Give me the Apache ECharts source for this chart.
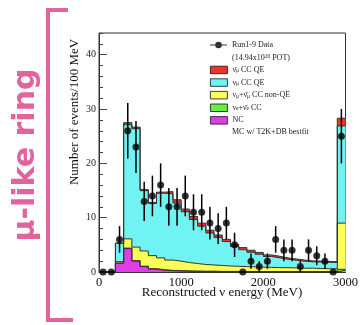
<!DOCTYPE html>
<html>
<head>
<meta charset="utf-8">
<script src="https://cdn.jsdelivr.net/npm/echarts@6/dist/echarts.min.js"></script>
<style>
html, body { margin: 0; padding: 0; background: #fff; }
#chart { width: 361px; height: 325px; }
</style>
</head>
<body>
<div id="chart"></div>
<script>
// Lower edges of the 100 MeV reconstructed-energy bins (last bin holds overflow)
const binLow = [0, 100, 200, 300, 400, 500, 600, 700, 800, 900,
  1000, 1100, 1200, 1300, 1400, 1500, 1600, 1700, 1800, 1900,
  2000, 2100, 2200, 2300, 2400, 2500, 2600, 2700, 2800, 2900];
const binWidth = 100;
const xMax = 3000;

// Observed events per bin
const dataCounts = [0, 0, 6, 26, 23, 13, 14, 16, 12, 12,
  14, 11, 11, 9, 8, 9, 5, 0, 2, 1,
  2, 6, 4, 4, 1, 4, 3, 2, 0, 25];

// Predicted events per bin, split by interaction channel
const ncEvents = [0, 0, 1.6, 4.3, 2.0, 1.0, 0.55, 0.35, 0.25, 0.2,
  0.15, 0.12, 0.1, 0.1, 0.08, 0.08, 0.07, 0.06, 0.06, 0.05,
  0.05, 0.05, 0.05, 0.04, 0.04, 0.04, 0.04, 0.03, 0.03, 0.3];
const nueCC = [0, 0, 0.05, 0.1, 0.08, 0.07, 0.06, 0.05, 0.05, 0.05,
  0.04, 0.04, 0.04, 0.04, 0.03, 0.03, 0.03, 0.03, 0.03, 0.03,
  0.03, 0.03, 0.03, 0.03, 0.02, 0.02, 0.02, 0.02, 0.02, 0.2];
const numuNonQE = [0, 0, 0.25, 1.7, 2.5, 2.8, 2.4, 2.2, 1.9, 1.75,
  1.55, 1.4, 1.25, 1.15, 1.1, 1.0, 0.95, 0.9, 0.86, 0.82,
  0.77, 0.72, 0.72, 0.68, 0.64, 0.64, 0.59, 0.55, 0.55, 8.5];
const numuQE = [0, 0, 3.4, 21.0, 21.8, 11.1, 9.6, 11.9, 12.2, 10.7,
  9.35, 8.1, 7.05, 5.9, 5.15, 4.5, 3.65, 3.12, 2.69, 2.36,
  2.0, 1.8, 1.55, 1.43, 1.3, 1.18, 1.18, 1.19, 1.15, 17.9];
const numubarQE = [0, 0, 0, 0.4, 0.3, 0.2, 0.2, 0.2, 0.4, 0.6,
  0.5, 0.55, 0.55, 0.5, 0.45, 0.4, 0.4, 0.38, 0.36, 0.34,
  0.3, 0.3, 0.25, 0.22, 0.2, 0.17, 0.17, 0.16, 0.15, 1.4];

// Tick values
const xTicks = [0, 1000, 2000, 3000];
const yTicks = [0, 10, 20, 30, 40];

const SERIF = '"Liberation Serif", "DejaVu Serif", serif';
const PINK = '#E2649F';

// Channels stacked from the bottom up
const layers = [
  { name: 'NC', values: ncEvents, color: '#E03DE8', label: '{t|NC}' },
  { name: 'νe+ν̄e CC', values: nueCC, color: '#66EE44', label: '{t|ν}{s|e}{t|+ν̄}{s|e}{t| CC}' },
  { name: 'νμ+ν̄μ CC non-QE', values: numuNonQE, color: '#FFFF55', label: '{t|ν}{s|μ}{t|+ν̄}{s|μ}{t| CC non-QE}' },
  { name: 'νμ CC QE', values: numuQE, color: '#72F3F3', label: '{t|ν}{s|μ}{t| CC QE}' },
  { name: 'ν̄μ CC QE', values: numubarQE, color: '#F0322C', label: '{t|ν̄}{s|μ}{t| CC QE}' }
];

// Running sums give the top edge of each stacked layer
const running = binLow.map(() => 0);
const cumulative = layers.map(layer => {
  layer.values.forEach((v, i) => { running[i] += v; });
  return running.slice();
});

// Step outline of a layer: one point at each bin's lower edge plus the closing edge
function stepPoints(tops) {
  const pts = binLow.map((x, i) => [x, tops[i]]);
  pts.push([xMax, tops[tops.length - 1]]);
  return pts;
}

// Draw the top layer first so lower layers sit on top of it
const histSeries = layers.map((layer, k) => ({
  name: layer.name,
  type: 'line',
  step: 'end',
  data: stepPoints(cumulative[k]),
  showSymbol: false,
  symbol: 'none',
  color: layer.color,
  lineStyle: { color: '#333', width: 1 },
  areaStyle: { color: layer.color, opacity: 1 },
  z: 2,
  silent: true,
  animation: false
})).reverse();

const binCenters = binLow.map(x => x + binWidth / 2);
const pointData = binCenters.map((x, i) => [x, dataCounts[i]]);
const errData = binCenters.map((x, i) => {
  const e = Math.sqrt(dataCounts[i]);
  return [x, dataCounts[i] - e, dataCounts[i] + e];
});

const legendRich = {
  t: { fontFamily: SERIF, fontSize: 8, color: '#222', lineHeight: 8 },
  s: { fontFamily: SERIF, fontSize: 5.5, color: '#222', lineHeight: 8, verticalAlign: 'bottom' }
};
const labelByName = {};
layers.forEach(l => { labelByName[l.name] = l.label; });

const chart = echarts.init(document.getElementById('chart'), null, { renderer: 'canvas' });

chart.setOption({
  animation: false,
  backgroundColor: '#fff',
  grid: { left: 99, right: 14, top: 33, bottom: 53, show: true, borderColor: '#333', borderWidth: 1, backgroundColor: 'transparent' },
  xAxis: [{
    type: 'value', min: 0, max: xMax, interval: 1000,
    axisLine: { show: true, lineStyle: { color: '#333', width: 1 } },
    axisTick: { show: true, inside: true, length: 8, lineStyle: { color: '#444' } },
    axisLabel: { fontFamily: SERIF, fontSize: 12.5, color: '#111', margin: 4,
      formatter: v => (xTicks.indexOf(v) >= 0 ? String(v) : '') },
    splitLine: { show: false }
  }, {
    type: 'value', min: 0, max: xMax, interval: 200, position: 'bottom',
    axisLine: { show: false },
    axisTick: { show: true, inside: true, length: 4, lineStyle: { color: '#444' } },
    axisLabel: { show: false }, splitLine: { show: false }
  }],
  yAxis: [{
    type: 'value', min: 0, max: 44, interval: 10,
    axisLine: { show: true, lineStyle: { color: '#333', width: 1 } },
    axisTick: { show: true, inside: true, length: 8, lineStyle: { color: '#444' } },
    axisLabel: { fontFamily: SERIF, fontSize: 10, color: '#222', margin: 3, showMaxLabel: false,
      formatter: v => (yTicks.indexOf(v) >= 0 ? String(v) : '') },
    splitLine: { show: false }
  }, {
    type: 'value', min: 0, max: 44, interval: 2, position: 'left',
    axisLine: { show: false },
    axisTick: { show: true, inside: true, length: 4, lineStyle: { color: '#444' } },
    axisLabel: { show: false }, splitLine: { show: false }
  }],
  legend: [{
    orient: 'vertical', left: 210, top: 41, padding: 0, itemWidth: 17, itemHeight: 8,
    selectedMode: false,
    data: [{ name: 'Run1-9 Data',
      icon: 'path://M0,4.4H18V5.6H0Z M5.5,5A3.5,3.5 0 1,1 12.5,5A3.5,3.5 0 1,1 5.5,5Z',
      itemStyle: { color: '#000' } }],
    textStyle: { fontFamily: SERIF, fontSize: 8, color: '#222' }
  }, {
    orient: 'vertical', left: 210, top: 65.8, padding: 0, itemWidth: 17, itemHeight: 7.5, itemGap: 4.3,
    selectedMode: false,
    itemStyle: { borderColor: '#111', borderWidth: 0.8 },
    data: layers.slice().reverse().map(l => ({ name: l.name, icon: 'rect', itemStyle: { color: l.color } })),
    formatter: name => labelByName[name],
    textStyle: { fontFamily: SERIF, fontSize: 8, color: '#222', lineHeight: 8, rich: legendRich }
  }],
  graphic: [
    { type: 'text', left: 232, top: 53.5, silent: true,
      style: { text: '{t|(14.94x10}{p|20}{t| POT)}', rich: {
        t: { fontFamily: SERIF, fontSize: 8, fill: '#222', lineHeight: 9 },
        p: { fontFamily: SERIF, fontSize: 5.5, fill: '#222', lineHeight: 9, verticalAlign: 'top', padding: [0, 0, 3, 0] } } } },
    { type: 'text', left: 232, top: 127.5, silent: true,
      style: { text: 'MC w/ T2K+DB bestfit', font: '8px ' + SERIF, fill: '#222' } },
    { type: 'text', x: 75, y: 112, rotation: Math.PI / 2, silent: true,
      style: { text: 'Number of events/100 MeV', font: '13px ' + SERIF, fill: '#111', align: 'center', verticalAlign: 'middle' } },
    { type: 'text', x: 222, y: 293, silent: true,
      style: { text: 'Reconstructed ν energy (MeV)', font: '13px ' + SERIF, fill: '#111', align: 'center', verticalAlign: 'middle' } },
    { type: 'text', x: 26, y: 155, rotation: Math.PI / 2, silent: true,
      style: { text: 'μ-like ring', font: 'bold 30px "DejaVu Sans", sans-serif', fill: PINK, align: 'center', verticalAlign: 'middle' } },
    { type: 'polyline', silent: true,
      shape: { points: [[68, 10], [48, 10], [48, 320], [73, 320]] },
      style: { stroke: PINK, lineWidth: 4, fill: null, lineJoin: 'miter' } }
  ],
  series: histSeries.concat([
    {
      name: 'error bars',
      type: 'custom',
      data: errData,
      encode: { x: 0, y: [1, 2] },
      z: 5,
      silent: true,
      renderItem: (params, api) => {
        const lo = api.value(1), hi = api.value(2);
        if (hi - lo <= 0) return null;
        const p1 = api.coord([api.value(0), lo]);
        const p2 = api.coord([api.value(0), hi]);
        return { type: 'line', shape: { x1: p1[0], y1: p1[1], x2: p2[0], y2: p2[1] },
          style: { stroke: '#000', lineWidth: 1.5 } };
      }
    },
    {
      name: 'Run1-9 Data',
      type: 'scatter',
      data: pointData,
      symbol: 'circle',
      symbolSize: 7,
      itemStyle: { color: '#000' },
      clip: false,
      z: 6,
      silent: true
    }
  ])
});
</script>
</body>
</html>
